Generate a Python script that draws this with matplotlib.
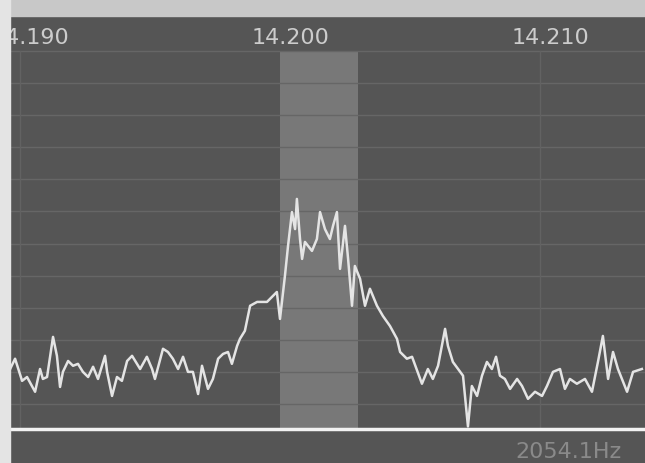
import matplotlib.pyplot as plt
from matplotlib.patches import Rectangle

# spectrum trace (frequency in kHz, level in dB)
freq_khz = [
    14189.62, 14189.81, 14190.08, 14190.27, 14190.58, 14190.77, 14190.88, 14191.04,
    14191.27, 14191.42, 14191.54, 14191.65, 14191.85, 14192.04, 14192.23, 14192.42,
    14192.62, 14192.81, 14193.00, 14193.27, 14193.35, 14193.54, 14193.73, 14193.92,
    14194.12, 14194.31, 14194.50, 14194.62, 14194.88, 14195.08, 14195.19, 14195.50,
    14195.69, 14195.88, 14196.08, 14196.27, 14196.46, 14196.65, 14196.85, 14197.00,
    14197.23, 14197.42, 14197.62, 14197.81, 14198.00, 14198.15, 14198.35, 14198.46,
    14198.65, 14198.85, 14199.12, 14199.50, 14199.88, 14200.00, 14200.19, 14200.31,
    14200.46, 14200.58, 14200.65, 14200.77, 14200.85, 14200.96, 14201.23, 14201.42,
    14201.54, 14201.73, 14201.92, 14202.04, 14202.19, 14202.31, 14202.50, 14202.62,
    14202.77, 14202.88, 14203.08, 14203.27, 14203.46, 14203.73, 14203.96, 14204.23,
    14204.50, 14204.62, 14204.88, 14205.08, 14205.46, 14205.69, 14205.88, 14206.08,
    14206.35, 14206.46, 14206.65, 14206.85, 14207.04, 14207.23, 14207.38, 14207.58,
    14207.77, 14207.96, 14208.15, 14208.31, 14208.46, 14208.65, 14208.85, 14209.12,
    14209.31, 14209.54, 14209.81, 14210.08, 14210.27, 14210.50, 14210.77, 14210.96,
    14211.15, 14211.42, 14211.73, 14212.00, 14212.23, 14212.42, 14212.62, 14212.81,
    14213.00, 14213.35, 14213.58, 14213.92,
]
level_db = [
    -99.1, -95.9, -102.8, -101.6, -106.2, -99.1, -102.2, -101.6,
    -89.1, -95.0, -104.7, -100.0, -96.6, -98.1, -97.5, -100.0,
    -101.6, -98.4, -102.2, -95.0, -100.0, -107.5, -101.6, -102.8,
    -96.6, -95.0, -97.5, -99.1, -95.3, -99.1, -102.2, -92.8,
    -93.8, -95.9, -99.1, -95.3, -100.0, -100.0, -106.9, -98.1,
    -105.3, -102.2, -95.9, -94.4, -93.8, -97.5, -91.9, -89.7,
    -87.2, -79.4, -78.2, -78.2, -75.1, -83.5, -70.1, -60.7,
    -50.2, -55.5, -46.1, -58.6, -64.8, -59.5, -62.3, -58.6,
    -50.2, -55.5, -58.6, -54.5, -50.2, -67.9, -54.5, -64.8,
    -79.4, -67.0, -71.0, -79.4, -74.1, -79.4, -82.6, -85.7,
    -89.7, -93.8, -95.9, -95.3, -103.7, -99.1, -102.2, -98.1,
    -86.6, -91.9, -96.9, -99.1, -101.2, -117.0, -104.4, -107.5,
    -101.2, -96.9, -99.1, -95.3, -101.2, -102.2, -105.3, -102.2,
    -104.4, -108.4, -106.2, -107.5, -104.4, -100.0, -99.1, -105.3,
    -102.2, -103.7, -102.2, -106.2, -96.9, -88.8, -102.2, -93.8,
    -99.1, -106.2, -100.0, -99.1,
]

tick_khz = [14190, 14200, 14210]
tick_labels = ['14.190', '14.200', '14.210']
level_lines = [0, -10, -20, -30, -40, -50, -60, -70, -80, -90, -100, -110]
passband = (14200.0, 14203.0)
readout = '2054.1Hz'

bg = '#555555'

fig = plt.figure(figsize=(6.45, 4.64), dpi=100)
fig.patch.set_facecolor(bg)

# light strip at the top and at the left (edge of the photo)
fig.patches.append(Rectangle((0, 447 / 464), 1, 17 / 464, transform=fig.transFigure,
                             color='#c8c8c8', zorder=0))
fig.patches.append(Rectangle((0, 0), 10 / 645, 1, transform=fig.transFigure,
                             color='#e4e4e4', zorder=0))

ax = fig.add_axes([10 / 645, 34 / 464, 635 / 645, 413 / 464])
ax.set_facecolor(bg)
ax.set_xlim(14189.615, 14214.04)
ax.set_ylim(-117.8, 10.9)

top = (0 - (-117.8)) / (10.9 - (-117.8))
ax.axvspan(passband[0], passband[1], ymax=top, color='#787878', zorder=1, lw=0)

for lv in level_lines:
    ax.axhline(lv, color='#666666', lw=1.0, zorder=2)
for f in (tick_khz[0], tick_khz[2]):
    ax.axvline(f, ymax=top, color='#626262', lw=1.0, zorder=2)

ax.plot(freq_khz, level_db, color='#e4e4e4', lw=1.8, zorder=3)

for f, lab in zip(tick_khz, tick_labels):
    ax.text(f + 0.42, 4.4, lab, color='#cccccc', fontsize=16,
            ha='center', va='center', zorder=4)

ax.set_xticks([])
ax.set_yticks([])
for s in ['top', 'left', 'right']:
    ax.spines[s].set_visible(False)
ax.spines['bottom'].set_color('#f2f2f2')
ax.spines['bottom'].set_linewidth(2.5)

fig.text(515 / 645, 12 / 464, readout, color='#8a8a8a', fontsize=16,
         ha='left', va='center')

fig.savefig('out.png', dpi=100, facecolor=fig.get_facecolor())
